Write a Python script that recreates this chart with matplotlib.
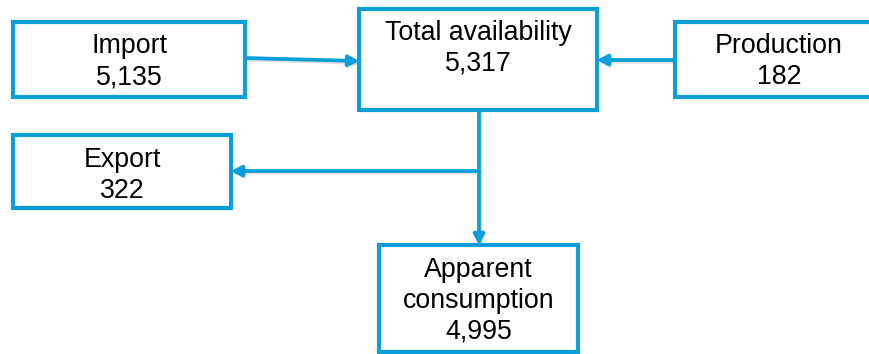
import matplotlib.pyplot as plt
from matplotlib.patches import Rectangle
import matplotlib.patheffects as pe

# --- data: node names and volumes ---
node_keys = ['import', 'total', 'production', 'export', 'consumption']
node_labels = [['Import'], ['Total availability'], ['Production'],
               ['Export'], ['Apparent', 'consumption']]
node_values = [5135, 5317, 182, 322, 4995]

# --- layout in pixel coordinates (x0, y0, x1, y1, first text baseline) ---
layout = {
    'import':      (13, 22, 245, 97, 53),
    'total':       (359, 9, 597, 110, 40),
    'production':  (675, 22, 885, 97, 53),
    'export':      (13, 135, 231, 208, 167),
    'consumption': (379, 245, 578, 352, 277),
}
line_pitch = 31

BLUE = '#0A9FD8'
W, H = 869, 354

plt.rcParams['font.family'] = ['Liberation Sans', 'DejaVu Sans']

fig = plt.figure(figsize=(W / 100, H / 100), dpi=100)
ax = fig.add_axes([0, 0, 1, 1])
ax.set_xlim(0, W)
ax.set_ylim(H, 0)
ax.axis('off')

shadow = [pe.SimpleLineShadow(offset=(0.8, -1.2), shadow_color='gray', alpha=0.25),
          pe.Normal()]

# boxes with their labels
for key, labels, value in zip(node_keys, node_labels, node_values):
    x0, y0, x1, y1, base = layout[key]
    ax.add_patch(Rectangle((x0, y0), x1 - x0, y1 - y0, facecolor='white',
                           edgecolor=BLUE, linewidth=3.0, zorder=3))
    lines = labels + [f'{value:,}']
    cx = (x0 + x1) / 2 if key != 'production' else 779
    for i, txt in enumerate(lines):
        ax.text(cx, base + i * line_pitch, txt, ha='center', va='baseline',
                fontsize=19.3, color='black', zorder=4)


def arrow(start, end):
    props = dict(arrowstyle='-|>,head_length=0.6,head_width=0.32',
                 color=BLUE, lw=2.7, shrinkA=0, shrinkB=0)
    a = ax.annotate('', xy=end, xytext=start, arrowprops=props, zorder=2)
    a.arrow_patch.set_path_effects(shadow)


# flows into total availability
arrow((245, 58), (359, 61))
arrow((675, 60), (597, 60))
# total -> apparent consumption, with a branch to export
arrow((479, 110), (479, 245))
arrow((479, 171), (231, 171))

fig.savefig('out.png', dpi=100)
